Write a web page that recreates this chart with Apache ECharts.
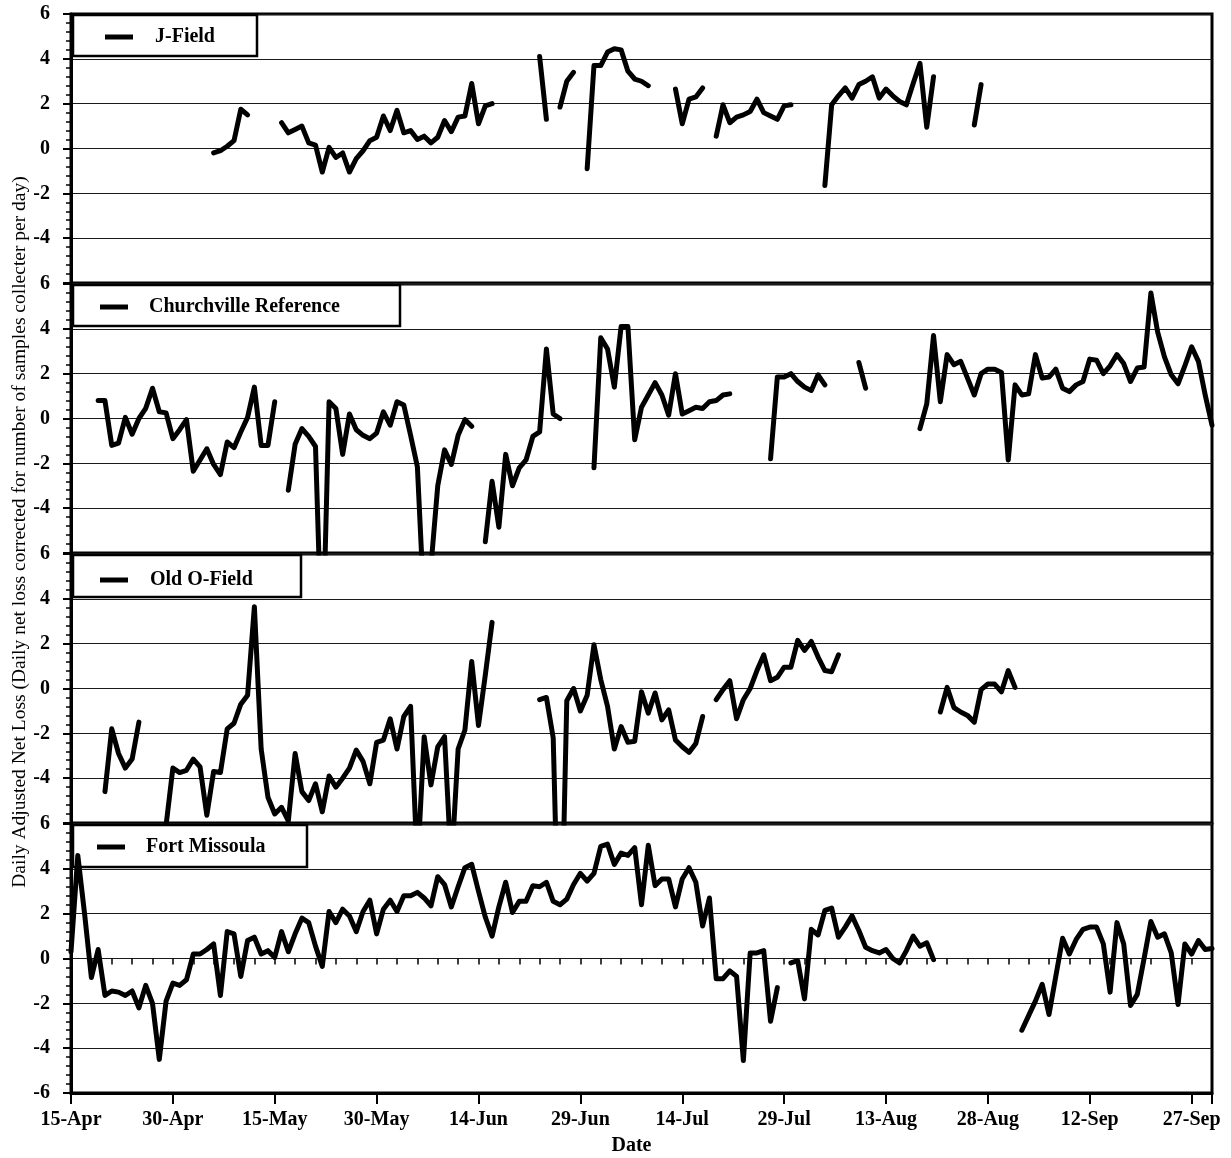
<!DOCTYPE html>
<html>
<head>
<meta charset="utf-8">
<script src="https://cdn.jsdelivr.net/npm/echarts@6/dist/echarts.min.js"></script>
<style>
html,body{margin:0;padding:0;background:#fff;}
#chart{width:1231px;height:1158px;}
</style>
</head>
<body>
<div id="chart"></div>
<script>
// x axis: day number counted from 15-Apr (day 0) to 30-Sep (day 168)
const tickLabels = ['15-Apr','30-Apr','15-May','30-May','14-Jun','29-Jun','14-Jul','29-Jul','13-Aug','28-Aug','12-Sep','27-Sep'];
const seriesNames = ['J-Field', 'Churchville Reference', 'Old O-Field', 'Fort Missoula'];
const yTicks = [-6, -4, -2, 0, 2, 4, 6];

// each run = [first day, consecutive daily values]; gaps between runs = no data
const jField = [
  [21, [-0.2,-0.1,0.1,0.35,1.75,1.5]],
  [31, [1.15,0.7,0.85,1.0,0.25,0.15,-1.05,0.05,-0.4,-0.2,-1.05,-0.45,-0.1,0.35,0.5,1.45,0.8,1.7,0.7,0.8,0.4,0.55,0.25,0.5,1.25,0.75,1.4,1.45,2.9,1.1,1.9,2.0]],
  [69, [4.1,1.3]],
  [72, [1.85,3.0,3.4]],
  [76, [-0.9,3.7,3.7,4.3,4.45,4.4,3.45,3.1,3.0,2.8]],
  [89, [2.65,1.1,2.2,2.3,2.7]],
  [95, [0.55,1.95,1.15,1.4,1.5,1.65,2.2,1.6,1.45,1.3,1.9,1.95]],
  [111, [-1.65,1.95,2.35,2.7,2.25,2.85,3.0,3.2,2.25,2.65,2.35,2.1,1.95,2.9,3.8,0.95,3.2]],
  [133, [1.05,2.85]]
];
const churchville = [
  [4, [0.8,0.8,-1.2,-1.1,0.05,-0.7,0.0,0.45,1.35,0.3,0.25,-0.9,-0.5,-0.05,-2.35,-1.85,-1.35,-2.05,-2.5,-1.05,-1.3,-0.6,0.05,1.4,-1.2,-1.2,0.75]],
  [32, [-3.2,-1.15,-0.45,-0.8,-1.25,-11,0.75,0.45,-1.6,0.2,-0.5,-0.75,-0.9,-0.65,0.3,-0.3,0.75,0.6,-0.75,-2.15,-8.5,-6.6,-3.0,-1.4,-2.05,-0.75,-0.05,-0.35]],
  [61, [-5.5,-2.8,-4.85,-1.6,-3.0,-2.2,-1.85,-0.8,-0.6,3.1,0.2,0.0]],
  [77, [-2.2,3.6,3.1,1.4,4.1,4.1,-0.95,0.5,1.05,1.6,1.05,0.15,2.0,0.2,0.35,0.5,0.45,0.75,0.8,1.05,1.1]],
  [103, [-1.8,1.85,1.85,2.0,1.65,1.4,1.25,1.95,1.5]],
  [116, [2.5,1.35]],
  [125, [-0.45,0.65,3.7,0.75,2.85,2.4,2.55,1.8,1.05,2.0,2.2,2.2,2.05,-1.85,1.5,1.05,1.1,2.85,1.8,1.85,2.2,1.35,1.2,1.5,1.65,2.65,2.6,2.0,2.35,2.85,2.45,1.65,2.25,2.3,5.6,3.85,2.75,1.95,1.55,2.35,3.2,2.55,1.05,-0.3]]
];
const oldOField = [
  [5, [-4.6,-1.8,-2.9,-3.55,-3.15,-1.5]],
  [14, [-6.1,-3.55,-3.75,-3.65,-3.15,-3.5,-5.65,-3.7,-3.75,-1.8,-1.55,-0.7,-0.3,3.65,-2.7,-4.85,-5.6,-5.3,-5.9,-2.9,-4.6,-5.0,-4.25,-5.5,-3.9,-4.4,-4.0,-3.55,-2.75,-3.25,-4.25,-2.4,-2.3,-1.35,-2.7,-1.25,-0.8,-8,-2.15,-4.3,-2.6,-2.15,-8,-2.7,-1.85,1.2,-1.65,0.6,2.95]],
  [69, [-0.5,-0.4,-2.2,-14,-0.55,0.0,-1.0,-0.3,1.95,0.4,-0.8,-2.7,-1.7,-2.4,-2.35,-0.15,-1.1,-0.2,-1.4,-0.95,-2.3,-2.6,-2.85,-2.45,-1.25]],
  [95, [-0.5,-0.05,0.35,-1.35,-0.5,0.0,0.8,1.5,0.35,0.5,0.95,0.95,2.15,1.7,2.1,1.4,0.8,0.75,1.5]],
  [128, [-1.05,0.05,-0.85,-1.05,-1.2,-1.5,-0.05,0.2,0.2,-0.15,0.8,0.05]]
];
const fortMissoula = [
  [0, [0.3,4.6,2.0,-0.85,0.4,-1.65,-1.45,-1.5,-1.65,-1.45,
       -2.2,-1.2,-2.0,-4.5,-1.9,-1.1,-1.2,-0.95,0.2,0.2,
       0.4,0.65,-1.65,1.2,1.1,-0.8,0.8,0.95,0.2,0.35,
       0.05,1.2,0.3,1.1,1.8,1.6,0.55,-0.35,2.1,1.6,
       2.2,1.9,1.2,2.1,2.6,1.1,2.2,2.6,2.1,2.8,
       2.8,2.95,2.7,2.35,3.65,3.3,2.3,3.2,4.05,4.2,
       3.0,1.85,1.0,2.3,3.4,2.05,2.55,2.55,3.25,3.2,
       3.4,2.55,2.4,2.65,3.3,3.8,3.45,3.8,5.0,5.1,
       4.2,4.7,4.6,4.95,2.4,5.05,3.25,3.55,3.55,2.3,
       3.55,4.05,3.4,1.45,2.7,-0.9,-0.9,-0.55,-0.8,-4.55,
       0.25,0.25,0.35,-2.8,-1.3]],
  [106, [-0.2,-0.1,-1.8,1.3,1.05,2.15,2.25,0.95,1.4,1.9,1.25,0.5,0.35,0.25,0.4,0.0,-0.2,0.35,1.0,0.55,0.7,-0.05]],
  [140, [-3.2,-2.55,-1.9,-1.15,-2.5,-0.8,0.9,0.2,0.85,1.3,1.4,1.4,0.65,-1.5,1.6,0.65,-2.1,-1.6,0.0,1.65,0.95,1.1,0.25,-2.05,0.65,0.2,0.8,0.4,0.45]]
];

const allRuns = [jField, churchville, oldOField, fortMissoula];

function buildData(runs) {
  const out = [];
  runs.forEach(function (run, k) {
    const start = run[0], vals = run[1];
    if (k > 0) out.push([start - 0.5, '-']);
    vals.forEach(function (v, i) { out.push([start + i, v]); });
  });
  return out;
}

const FONT = '"Liberation Serif", "Times New Roman", serif';
const gridTops = [14, 284, 554, 824];
const GRID_H = 269;

const grids = gridTops.map(function (t) {
  return { left: 71, top: t, width: 1141, height: GRID_H, show: true,
           borderColor: '#000', borderWidth: 3, backgroundColor: 'transparent' };
});

const xAxes = gridTops.map(function (t, i) {
  return {
    gridIndex: i, type: 'value', min: 0, max: 168, interval: 3, position: 'bottom',
    axisLine: { show: false },
    axisTick: { show: i === 3, length: 6, lineStyle: { color: '#000', width: 1.5 } },
    axisLabel: { show: false },
    splitLine: { show: false }
  };
});
xAxes.push({
  gridIndex: 3, type: 'value', min: 0, max: 168, interval: 15, position: 'bottom',
  axisLine: { show: true, lineStyle: { color: '#000', width: 3 } },
  axisTick: { show: true, length: 11, lineStyle: { color: '#000', width: 2 } },
  axisLabel: {
    show: true, margin: 17, color: '#000', fontFamily: FONT, fontWeight: 'bold', fontSize: 20,
    formatter: function (v) { return (v % 15 === 0 && tickLabels[v / 15]) ? tickLabels[v / 15] : ''; }
  },
  splitLine: { show: false },
  name: 'Date', nameLocation: 'middle', nameGap: 43,
  nameTextStyle: { color: '#000', fontFamily: FONT, fontWeight: 'bold', fontSize: 20, padding: [0, 20, 0, 0] }
});

const yAxes = gridTops.map(function (t, i) {
  return {
    gridIndex: i, type: 'value', min: yTicks[0], max: yTicks[yTicks.length - 1], interval: 2,
    axisLine: { show: true, lineStyle: { color: '#000', width: 3 } },
    axisTick: { show: true, length: 8, lineStyle: { color: '#000', width: 2 } },
    minorTick: { show: true, splitNumber: 5, length: 5, lineStyle: { color: '#000', width: 1.5 } },
    splitLine: { show: true, lineStyle: { color: '#1a1a1a', width: 1.2 } },
    axisLabel: { showMinLabel: i === 3, margin: 21, color: '#000', fontFamily: FONT, fontWeight: 'bold', fontSize: 20 }
  };
});

const legendPos = [[105, 27, 17], [100, 297, 16], [100, 570, 17], [97, 837, 16]];
const legends = seriesNames.map(function (n, i) {
  return {
    data: [n], left: legendPos[i][0], top: legendPos[i][1], padding: 0, itemGap: 0,
    itemWidth: 28, itemHeight: 5, icon: 'rect', selectedMode: false,
    textStyle: { color: '#000', fontFamily: FONT, fontWeight: 'bold', fontSize: 20, padding: [0, 0, 0, legendPos[i][2]] }
  };
});

const boxes = [[73, 15, 184, 41], [73, 285, 327, 41], [73, 555, 228, 42], [73, 825, 234, 42]];
const graphics = boxes.map(function (b) {
  return { type: 'rect', z: 1, shape: { x: b[0], y: b[1], width: b[2], height: b[3] },
           style: { fill: '#fff', stroke: '#000', lineWidth: 2.5 } };
});
graphics.push({
  type: 'text', z: 5, x: 20, y: 532, rotation: Math.PI / 2,
  style: { text: 'Daily Adjusted Net Loss (Daily net loss corrected for number of samples collecter per day)',
           x: 0, y: 0, align: 'center', verticalAlign: 'middle', fill: '#000',
           font: '19.5px "Liberation Serif", "Times New Roman", serif' }
});

const series = seriesNames.map(function (n, i) {
  return {
    name: n, type: 'line', xAxisIndex: i, yAxisIndex: i, symbol: 'none', showSymbol: false,
    connectNulls: false, clip: true, z: 3,
    lineStyle: { color: '#000', width: 5, cap: 'round', join: 'round' },
    itemStyle: { color: '#000' },
    data: buildData(allRuns[i])
  };
});

const chart = echarts.init(document.getElementById('chart'), null, { renderer: 'canvas' });
chart.setOption({
  animation: false,
  backgroundColor: '#fff',
  grid: grids,
  xAxis: xAxes,
  yAxis: yAxes,
  legend: legends,
  graphic: graphics,
  series: series
});
</script>
</body>
</html>
